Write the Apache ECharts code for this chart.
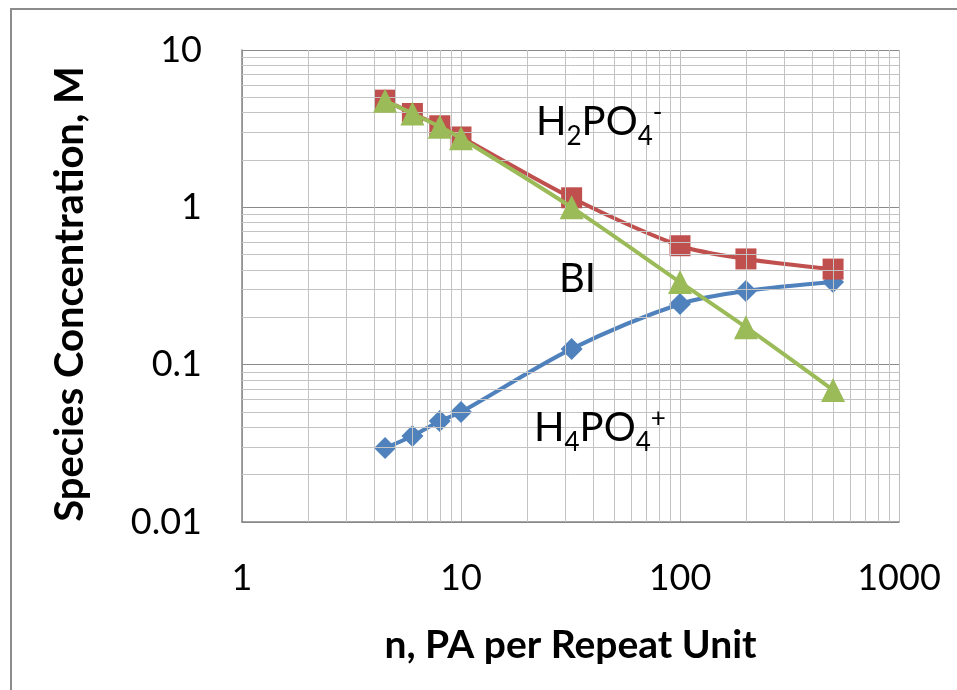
<!DOCTYPE html>
<html>
<head>
<meta charset="utf-8">
<script src="https://cdn.jsdelivr.net/npm/echarts@6/dist/echarts.min.js"></script>
<style>html,body{margin:0;padding:0;background:#fff;}#c{width:957px;height:690px;}</style>
</head>
<body>
<div id="c"></div>
<script>
// Data
const nValues = [4.5, 6, 8, 10, 32, 100, 200, 500];
const h4po4 = [0.0295, 0.0352, 0.0438, 0.050, 0.126, 0.243, 0.294, 0.335];
const h2po4 = [4.8, 3.95, 3.3, 2.8, 1.15, 0.57, 0.47, 0.405];
const biValues = [4.75, 3.95, 3.25, 2.75, 1.0, 0.335, 0.173, 0.069];
const xMinor = [2,3,4,5,6,7,8,9,20,30,40,50,60,70,80,90,200,300,400,500,600,700,800,900];
const yMinor = [0.02,0.03,0.04,0.05,0.06,0.07,0.08,0.09,0.2,0.3,0.4,0.5,0.6,0.7,0.8,0.9,2,3,4,5,6,7,8,9];

const FONT = 'Lato';
const pair = arr => nValues.map((x, i) => [x, arr[i]]);
const fmt = v => String(+(+v).toPrecision(6));
const chemRich = {
  n: {fontFamily: FONT, fontSize: 40, color: '#000', lineHeight: 40},
  sub: {fontFamily: FONT, fontSize: 26, color: '#000', height: 10, verticalAlign: 'bottom'},
  sup: {fontFamily: FONT, fontSize: 26, color: '#000', height: 22, verticalAlign: 'top'}
};

const chart = echarts.init(document.getElementById('c'), null, {renderer: 'canvas'});
chart.setOption({
  animation: false,
  backgroundColor: '#ffffff',
  textStyle: {fontFamily: FONT},
  grid: {left: 242, right: 58, top: 50, bottom: 168, containLabel: false},
  xAxis: {
    type: 'log', logBase: 10, min: 1, max: 1000,
    name: 'n, PA per Repeat Unit', nameLocation: 'middle', nameGap: 104,
    nameTextStyle: {fontFamily: FONT, fontSize: 39, fontWeight: 'bold', color: '#000'},
    axisLine: {show: true, lineStyle: {color: '#868686', width: 1.5}},
    axisTick: {show: false},
    axisLabel: {fontFamily: FONT, fontSize: 36, color: '#000', margin: 38, formatter: fmt},
    splitLine: {show: true, lineStyle: {color: '#bdbdbd', width: 1}}
  },
  yAxis: {
    type: 'log', logBase: 10, min: 0.01, max: 10,
    name: 'Species Concentration, M', nameLocation: 'middle', nameGap: 152, nameRotate: 90,
    nameTextStyle: {fontFamily: FONT, fontSize: 40, fontWeight: 'bold', color: '#000', padding: [0, 16, 0, 0]},
    axisLine: {show: true, lineStyle: {color: '#868686', width: 1.5}},
    axisTick: {show: false},
    axisLabel: {fontFamily: FONT, fontSize: 36, color: '#000', margin: 40, formatter: fmt},
    splitLine: {show: true, lineStyle: {color: '#8a8a8a', width: 1}}
  },
  series: [
    {
      name: 'minor-grid', type: 'line', data: [[1, 0.01]], showSymbol: false, symbol: 'none',
      lineStyle: {width: 0}, silent: true, z: 1,
      markLine: {
        silent: true, symbol: ['none', 'none'], label: {show: false}, animation: false,
        lineStyle: {color: '#c3c3c3', width: 1, type: 'solid'},
        emphasis: {disabled: true},
        data: xMinor.map(v => ({xAxis: v})).concat(yMinor.map(v => ({yAxis: v})))
      }
    },
    {
      name: 'H4PO4+', type: 'line', data: pair(h4po4), smooth: 0.3, z: 3,
      symbol: 'diamond', symbolSize: 22,
      lineStyle: {color: '#4F81BD', width: 4},
      itemStyle: {color: '#4F81BD'}
    },
    {
      name: 'H2PO4-', type: 'line', data: pair(h2po4), smooth: 0.3, z: 4,
      symbol: 'rect', symbolSize: 21,
      lineStyle: {color: '#C0504D', width: 4},
      itemStyle: {color: '#C0504D'}
    },
    {
      name: 'BI', type: 'line', data: pair(biValues), smooth: 0.3, z: 5,
      symbol: 'triangle', symbolSize: 24,
      lineStyle: {color: '#9BBB59', width: 4},
      itemStyle: {color: '#9BBB59'}
    }
  ],
  graphic: [
    {type: 'rect', shape: {x: 11, y: 9, width: 970, height: 700}, style: {fill: 'none', stroke: '#8c8c8c', lineWidth: 2}, silent: true, z: 0},
    {
      type: 'text', x: 536, y: 122, z: 10,
      style: {text: '{n|H}{sub|2}{n|PO}{sub|4}{sup|-}', verticalAlign: 'middle', align: 'left', rich: chemRich}
    },
    {
      type: 'text', x: 559, y: 279, z: 10,
      style: {text: 'BI', fontFamily: FONT, fontSize: 40, fill: '#000', verticalAlign: 'middle', align: 'left'}
    },
    {
      type: 'text', x: 534, y: 428, z: 10,
      style: {text: '{n|H}{sub|4}{n|PO}{sub|4}{sup|+}', verticalAlign: 'middle', align: 'left', rich: chemRich}
    }
  ]
});
</script>
</body>
</html>
